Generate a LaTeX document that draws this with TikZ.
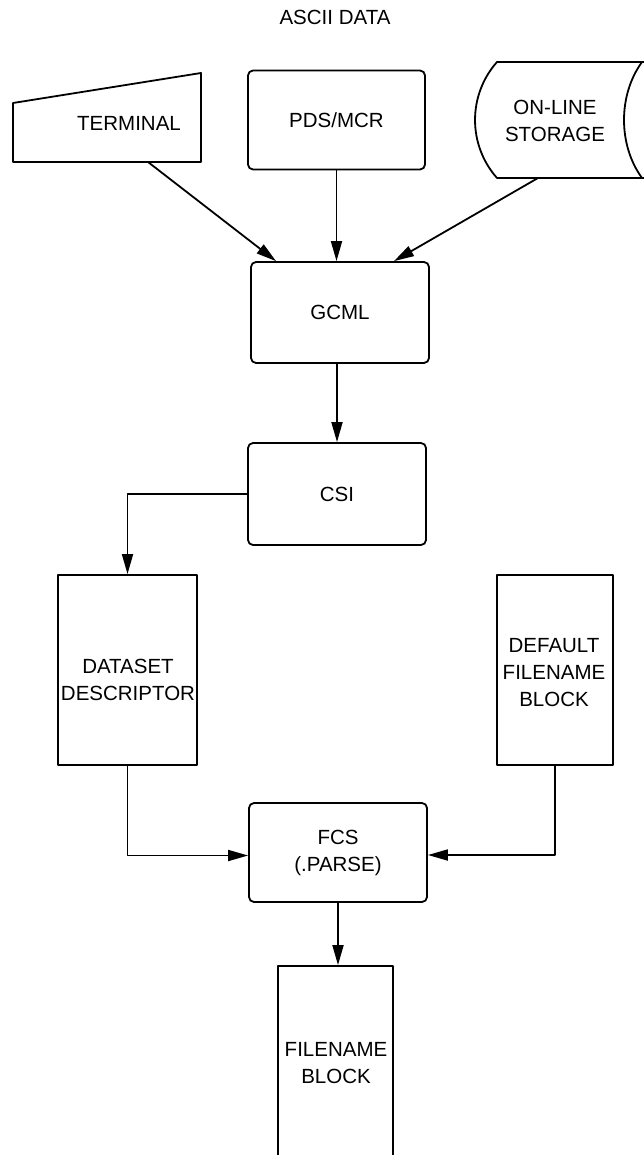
\documentclass[tikz,border=0pt]{standalone}
\usepackage{fontspec}
\setmainfont{Liberation Sans}
\usetikzlibrary{arrows.meta}
\begin{document}
\begin{tikzpicture}[x=1pt,y=-1pt,
  every node/.style={font=\fontsize{20.5}{27}\selectfont, align=center, inner sep=0pt},
  ln/.style={line width=1.8pt, line join=round},
  rbox/.style={ln, draw, rounded corners=5pt},
  sbox/.style={ln, draw},
  arr/.style={ln, -{Triangle[length=20pt,width=11pt]}}]
\useasboundingbox (0,0) rectangle (644,1155);
\clip (0,0) rectangle (644,1155);
% title
\node (title) at (335,17) {ASCII DATA};
% terminal
\draw[ln] (13,103) -- (201,73) -- (201,162) -- (13,162) -- cycle;
\node (term) at (129,123) {TERMINAL};
\coordinate (termb) at (148,162);
% PDS/MCR
\node[rbox, minimum width=177pt, minimum height=99pt] (pds) at (336.5,120) {PDS/MCR};
% storage
\draw[ln] (660,62) -- (497,62) .. controls (467.7,95) and (467.7,145) .. (497,178) -- (660,178);
\draw[ln] (642,62) .. controls (618,95) and (618,145) .. (642,178);
\node (stor) at (555,121) {ON-LINE\\STORAGE};
\coordinate (storb) at (538,178);
% GCML
\node[rbox, minimum width=178pt, minimum height=101pt] (gcml) at (340,312.5) {GCML};
% CSI
\node[rbox, minimum width=178pt, minimum height=102pt] (csi) at (337,494) {CSI};
% dataset descriptor
\node[sbox, minimum width=139pt, minimum height=190pt] (ds) at (127.5,670) {};
\node (dstxt) at (128,680) {DATASET\\DESCRIPTOR};
% default filename block
\node[sbox, minimum width=116pt, minimum height=190pt] (dfb) at (555,670) {};
\node (dfbtxt) at (554,673) {DEFAULT\\FILENAME\\BLOCK};
% FCS
\node[rbox, minimum width=178pt, minimum height=99pt] (fcs) at (338,852.5) {FCS\\(.PARSE)};
% filename block
\node[sbox, minimum width=115pt, minimum height=196pt] (fb) at (335.5,1064) {};
\node (fbtxt) at (336,1063) {FILENAME\\BLOCK};
% connectors
\draw[arr] (termb) -- ([xshift=-64pt]gcml.north);
\draw[arr] (pds.south) -- (pds.south |- gcml.north);
\draw[arr] (storb) -- ([xshift=54pt]gcml.north);
\draw[arr] (gcml.south -| csi.north) -- (csi.north);
\draw[arr] (csi.west) -| (ds.north);
\draw[arr] (ds.south) |- ([yshift=-3pt]fcs.west);
\draw[arr] (dfb.south) |- ([yshift=-2.5pt]fcs.east);
\draw[arr] (fcs.south) -- (fcs.south |- fb.north);
\end{tikzpicture}
\end{document}
